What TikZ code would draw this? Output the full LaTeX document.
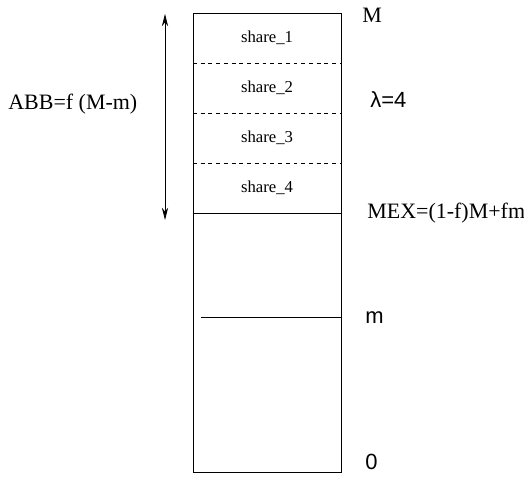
\documentclass[tikz,border=0pt]{standalone}
\usepackage{fontspec}
\setmainfont{Liberation Serif}
\newfontfamily\labsf{Liberation Sans}
\usetikzlibrary{arrows.meta}

\begin{document}
\begin{tikzpicture}[>={Stealth[length=7pt,width=3.5pt]},
  lab/.style={anchor=west,inner sep=0pt,font=\fontsize{12.5}{14}\selectfont},
  sharelab/.style={inner sep=0pt,font=\fontsize{9.5}{11}\selectfont}]
  \useasboundingbox (0,0) rectangle (10.48,9.54);
  % the pool
  \draw (3.86,0.10) rectangle (6.82,9.28);
  \foreach \y in {8.28,7.28,6.28}
    \draw[dash pattern=on 2.2pt off 2.2pt] (3.86,\y) -- (6.82,\y);
  \draw (3.86,5.28) -- (6.82,5.28);
  \draw (4.02,3.20) -- (6.82,3.20);
  \foreach \i/\y in {1/8.78,2/7.78,3/6.78,4/5.78}
    \node[sharelab] (share\i) at (5.34,\y) {share\_\i};
  % levels
  \node[lab] (lvM) at (7.24,9.24) {M};
  \node[lab] (lvlam) at (7.40,7.54) {\labsf λ=4};
  \node[lab] (lvMEX) at (7.34,5.28) {MEX=(1-f)M+fm};
  \node[lab] (lvm) at (7.30,3.18) {\labsf m};
  \node[lab] (lvzero) at (7.30,0.30) {\labsf 0};
  % the band
  \coordinate (abbtop) at (3.30,9.26);
  \coordinate (abbbot) at (3.30,5.14);
  \draw[<->] (abbtop) -- (abbbot);
  \node[lab] (abb) at (0.16,7.45) {ABB=f (M-m)};
\end{tikzpicture}
\end{document}
